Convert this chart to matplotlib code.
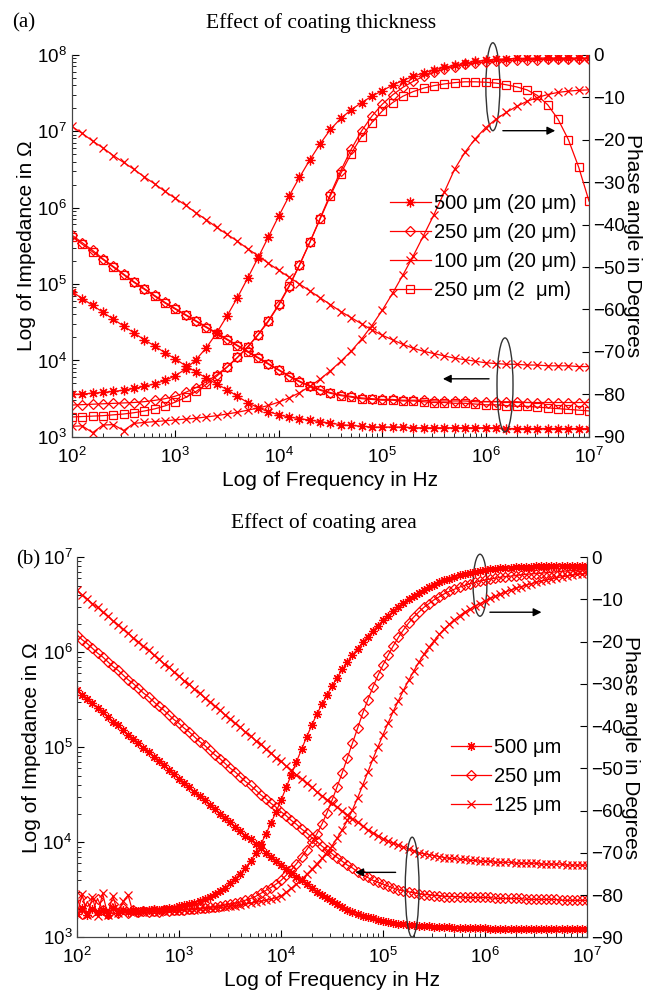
import numpy as np
import matplotlib
matplotlib.use("Agg")
import matplotlib.pyplot as plt
from matplotlib.patches import Ellipse

plt.rcParams['font.family'] = ['Liberation Sans', 'DejaVu Sans']
plt.rcParams['mathtext.fontset'] = 'custom'
plt.rcParams['mathtext.rm'] = 'Liberation Sans'
plt.rcParams['mathtext.it'] = 'Liberation Sans'

# frequency grids, log10(f) from 2 to 7
logf_a = np.round(np.arange(2.0, 7.0001, 0.1), 2)
logf_b = np.round(np.arange(2.0, 7.0001, 0.05), 2)

# ---- (a) effect of coating thickness : log10 |Z| ----
za_500 = [4.90, 4.81, 4.72, 4.63, 4.54, 4.45, 4.36, 4.27, 4.19, 4.10,
          4.02, 3.93, 3.85, 3.77, 3.69, 3.62, 3.53, 3.45, 3.38, 3.33,
          3.29, 3.26, 3.24, 3.22, 3.20, 3.18, 3.16, 3.15, 3.14, 3.13,
          3.13, 3.13, 3.13, 3.12, 3.12, 3.12, 3.12, 3.12, 3.12, 3.12,
          3.12, 3.12, 3.11, 3.11, 3.11, 3.11, 3.11, 3.11, 3.11, 3.11, 3.11]
za_250 = [5.64, 5.54, 5.44, 5.33, 5.23, 5.13, 5.03, 4.94, 4.85, 4.76,
          4.68, 4.60, 4.52, 4.44, 4.36, 4.28, 4.20, 4.12, 4.04, 3.96,
          3.88, 3.80, 3.73, 3.67, 3.62, 3.58, 3.55, 3.53, 3.51, 3.50,
          3.49, 3.49, 3.48, 3.48, 3.48, 3.47, 3.47, 3.47, 3.47, 3.46,
          3.46, 3.46, 3.46, 3.46, 3.45, 3.45, 3.45, 3.45, 3.45, 3.45, 3.45]
za_100 = [7.06, 6.97, 6.87, 6.78, 6.68, 6.59, 6.50, 6.40, 6.31, 6.21,
          6.12, 6.03, 5.93, 5.84, 5.74, 5.65, 5.56, 5.46, 5.37, 5.27,
          5.18, 5.09, 5.00, 4.91, 4.82, 4.73, 4.64, 4.56, 4.48, 4.40,
          4.33, 4.27, 4.21, 4.16, 4.12, 4.09, 4.06, 4.03, 4.01, 3.99,
          3.97, 3.96, 3.95, 3.95, 3.94, 3.94, 3.93, 3.93, 3.93, 3.92, 3.92]
za_250b = [5.62, 5.52, 5.42, 5.32, 5.22, 5.12, 5.02, 4.93, 4.84, 4.75,
           4.67, 4.59, 4.51, 4.43, 4.35, 4.27, 4.19, 4.11, 4.03, 3.95,
           3.87, 3.79, 3.72, 3.66, 3.61, 3.57, 3.54, 3.52, 3.50, 3.49,
           3.48, 3.48, 3.47, 3.47, 3.46, 3.45, 3.45, 3.44, 3.44, 3.43,
           3.42, 3.42, 3.41, 3.40, 3.40, 3.39, 3.38, 3.37, 3.36, 3.35, 3.34]

# ---- (a) phase angle, degrees ----
pa_500 = [-80.0, -79.9, -79.7, -79.5, -79.3, -79.0, -78.6, -78.1, -77.5, -76.7,
          -75.6, -74.0, -71.8, -69.0, -65.5, -61.5, -57.2, -52.6, -47.8, -42.9,
          -38.0, -33.3, -28.9, -24.8, -21.0, -17.6, -15.0, -13.0, -11.3, -9.8,
          -8.5, -7.2, -6.1, -5.1, -4.3, -3.6, -3.0, -2.5, -2.0, -1.6,
          -1.3, -1.1, -1.0, -0.9, -0.9, -0.8, -0.8, -0.8, -0.8, -0.8, -0.8]
pa_250 = [-82.5, -82.4, -82.3, -82.2, -82.1, -82.0, -81.9, -81.7, -81.4, -81.0,
          -80.4, -79.5, -78.4, -77.0, -75.4, -73.5, -71.3, -68.8, -66.0, -62.8,
          -59.0, -54.6, -49.6, -44.2, -38.5, -32.8, -27.3, -22.3, -18.0, -14.5,
          -11.7, -9.5, -7.7, -6.3, -5.1, -4.2, -3.4, -2.8, -2.3, -2.0,
          -1.7, -1.5, -1.4, -1.3, -1.2, -1.2, -1.1, -1.1, -1.1, -1.0, -1.0]
pa_100 = [-87.5, -87.4, -89.0, -87.2, -87.1, -88.5, -86.8, -86.6, -86.4, -86.2,
          -86.0, -85.8, -85.6, -85.3, -85.0, -84.6, -84.2, -83.7, -83.2, -82.6,
          -81.8, -80.8, -79.6, -78.1, -76.4, -74.4, -72.2, -69.8, -67.0, -63.8,
          -60.2, -56.2, -51.9, -47.4, -42.6, -37.7, -32.4, -27.0, -23.0, -19.8,
          -17.2, -15.2, -13.6, -12.2, -11.0, -10.1, -9.4, -8.9, -8.6, -8.4, -8.3]
pa_250b = [-85.3, -85.2, -85.1, -85.0, -84.8, -84.6, -84.3, -83.9, -83.4, -82.7,
           -81.8, -80.7, -79.3, -77.6, -75.7, -73.6, -71.3, -68.8, -65.9, -62.6,
           -58.8, -54.4, -49.5, -44.2, -38.7, -33.2, -28.0, -23.3, -19.3, -16.0,
           -13.3, -11.3, -9.8, -8.7, -7.9, -7.3, -6.9, -6.6, -6.4, -6.4,
           -6.5, -6.7, -7.1, -7.6, -8.3, -9.6, -11.8, -15.2, -20.0, -26.5, -34.5]

# ---- (b) effect of coating area : log10 |Z| ----
zb_500 = [5.60, 5.55, 5.51, 5.46, 5.41, 5.37, 5.32, 5.27, 5.23, 5.18,
          5.13, 5.09, 5.04, 4.99, 4.95, 4.90, 4.86, 4.81, 4.76, 4.72,
          4.67, 4.62, 4.58, 4.53, 4.49, 4.44, 4.39, 4.35, 4.30, 4.26,
          4.21, 4.16, 4.12, 4.07, 4.03, 3.98, 3.94, 3.89, 3.85, 3.80,
          3.76, 3.72, 3.68, 3.64, 3.60, 3.56, 3.52, 3.48, 3.45, 3.41,
          3.38, 3.35, 3.32, 3.29, 3.27, 3.25, 3.23, 3.21, 3.20, 3.18,
          3.17, 3.16, 3.15, 3.14, 3.14, 3.13, 3.13, 3.12, 3.12, 3.12,
          3.11, 3.11, 3.11, 3.11, 3.10, 3.10, 3.10, 3.10, 3.10, 3.10,
          3.10, 3.09, 3.09, 3.09, 3.09, 3.09, 3.09, 3.09, 3.09, 3.09,
          3.09, 3.09, 3.09, 3.09, 3.09, 3.09, 3.09, 3.09, 3.09, 3.09,
          3.09]
zb_250 = [6.18, 6.13, 6.09, 6.04, 5.99, 5.95, 5.90, 5.85, 5.81, 5.76,
          5.71, 5.67, 5.62, 5.57, 5.53, 5.48, 5.43, 5.39, 5.34, 5.29,
          5.25, 5.20, 5.16, 5.11, 5.06, 5.02, 4.97, 4.92, 4.88, 4.83,
          4.78, 4.74, 4.69, 4.64, 4.60, 4.55, 4.50, 4.46, 4.41, 4.37,
          4.32, 4.28, 4.23, 4.19, 4.14, 4.10, 4.05, 4.01, 3.96, 3.92,
          3.88, 3.84, 3.80, 3.76, 3.73, 3.69, 3.66, 3.63, 3.60, 3.58,
          3.56, 3.54, 3.52, 3.50, 3.49, 3.48, 3.47, 3.46, 3.45, 3.45,
          3.44, 3.44, 3.43, 3.43, 3.43, 3.43, 3.42, 3.42, 3.42, 3.42,
          3.42, 3.42, 3.41, 3.41, 3.41, 3.41, 3.41, 3.41, 3.40, 3.40,
          3.40, 3.40, 3.40, 3.40, 3.40, 3.39, 3.39, 3.39, 3.39, 3.39,
          3.39]
zb_125 = [6.65, 6.60, 6.56, 6.51, 6.47, 6.42, 6.38, 6.33, 6.29, 6.24,
          6.20, 6.15, 6.11, 6.06, 6.02, 5.97, 5.93, 5.88, 5.84, 5.79,
          5.75, 5.70, 5.66, 5.61, 5.57, 5.52, 5.48, 5.43, 5.39, 5.34,
          5.30, 5.25, 5.21, 5.16, 5.12, 5.07, 5.03, 4.98, 4.94, 4.89,
          4.85, 4.80, 4.76, 4.71, 4.67, 4.62, 4.58, 4.53, 4.49, 4.45,
          4.41, 4.37, 4.33, 4.29, 4.25, 4.21, 4.17, 4.13, 4.10, 4.07,
          4.04, 4.01, 3.99, 3.97, 3.95, 3.93, 3.91, 3.89, 3.88, 3.87,
          3.86, 3.85, 3.84, 3.83, 3.83, 3.82, 3.82, 3.81, 3.81, 3.80,
          3.80, 3.80, 3.79, 3.79, 3.79, 3.79, 3.78, 3.78, 3.78, 3.78,
          3.78, 3.77, 3.77, 3.77, 3.77, 3.77, 3.76, 3.76, 3.76, 3.76,
          3.76]

# ---- (b) phase angle, degrees ----
pb_500 = [-84.5, -83.0, -84.8, -83.2, -84.0, -83.5, -84.6, -83.1, -84.2, -83.6,
          -84.0, -83.4, -83.9, -83.5, -83.6, -83.3, -83.4, -83.2, -83.1, -83.0,
          -82.6, -82.4, -82.1, -81.8, -81.4, -80.9, -80.4, -79.8, -79.0, -78.2,
          -77.2, -76.1, -74.9, -73.5, -72.0, -70.1, -68.0, -65.6, -63.0, -60.3,
          -57.5, -54.5, -51.5, -48.5, -45.5, -42.6, -39.8, -37.2, -34.8, -32.6,
          -30.5, -28.5, -26.6, -24.9, -23.2, -21.7, -20.2, -18.8, -17.5, -16.2,
          -15.0, -13.9, -12.8, -11.8, -10.8, -9.9, -9.1, -8.4, -7.7, -7.1,
          -6.5, -6.0, -5.5, -5.1, -4.7, -4.3, -4.0, -3.7, -3.5, -3.3,
          -3.1, -2.9, -2.8, -2.7, -2.6, -2.5, -2.4, -2.4, -2.3, -2.3,
          -2.2, -2.2, -2.1, -2.1, -2.1, -2.1, -2.0, -2.0, -2.0, -2.0,
          -2.0]
pb_250 = [-80.5, -84.5, -81.5, -84.0, -80.8, -83.5, -84.5, -82.0, -84.2, -83.0,
          -84.3, -83.5, -84.0, -83.8, -84.1, -83.7, -83.9, -83.6, -83.7, -83.6,
          -83.5, -83.4, -83.3, -83.2, -83.1, -83.0, -82.8, -82.7, -82.5, -82.3,
          -82.1, -81.9, -81.6, -81.2, -80.8, -80.3, -79.6, -78.9, -78.2, -77.4,
          -76.5, -75.3, -74.0, -72.6, -71.0, -69.3, -67.5, -65.5, -63.2, -60.5,
          -57.5, -54.3, -51.0, -47.5, -44.0, -40.5, -37.0, -33.8, -30.8, -28.0,
          -25.5, -23.2, -21.0, -19.0, -17.2, -15.6, -14.2, -13.0, -11.9, -11.0,
          -10.1, -9.4, -8.7, -8.1, -7.6, -7.1, -6.7, -6.3, -6.0, -5.7,
          -5.4, -5.2, -5.0, -4.8, -4.6, -4.5, -4.4, -4.2, -4.1, -4.0,
          -3.9, -3.8, -3.7, -3.6, -3.5, -3.4, -3.3, -3.2, -3.1, -3.0,
          -3.0]
pb_125 = [-84.5, -79.8, -84.8, -80.5, -85.0, -79.6, -84.6, -80.2, -84.2, -81.5,
          -80.0, -84.3, -84.1, -84.0, -84.0, -83.9, -83.9, -83.8, -83.8, -83.7,
          -83.7, -83.6, -83.5, -83.4, -83.3, -83.2, -83.1, -83.0, -82.9, -82.8,
          -82.6, -82.5, -82.3, -82.1, -81.9, -81.7, -81.5, -81.2, -81.0, -80.6,
          -80.2, -79.3, -78.4, -77.4, -76.3, -75.1, -73.9, -72.6, -71.3, -69.9,
          -68.3, -66.5, -64.5, -62.3, -59.8, -57.0, -54.0, -50.9, -47.8, -44.9,
          -42.0, -39.2, -36.5, -34.0, -31.5, -29.2, -27.0, -24.9, -23.0, -21.3,
          -19.8, -18.3, -17.0, -15.9, -14.8, -13.9, -13.0, -12.3, -11.6, -11.0,
          -10.4, -9.8, -9.3, -8.8, -8.3, -7.8, -7.4, -7.0, -6.7, -6.3,
          -6.0, -5.7, -5.4, -5.2, -4.9, -4.7, -4.5, -4.3, -4.1, -4.0,
          -3.8]

labels_a = ["500 μm (20 μm)", "250 μm (20 μm)", "100 μm (20 μm)", "250 μm (2  μm)"]
labels_b = ["500 μm", "250 μm", "125 μm"]

red = "#ff0000"
fsz = 13.5
ast = (8, 2, 0)

fa = 10.0 ** logf_a
fb = 10.0 ** logf_b

fig = plt.figure(figsize=(6.48, 9.93), dpi=100)
ax = fig.add_axes([0.111, 0.560, 0.798, 0.385])
bx = fig.add_axes([0.119, 0.056, 0.787, 0.383])


def style(a, b, ylo, yhi):
    for s in (a, b):
        s.spines['top'].set_visible(False)
        s.spines['left'].set_color('#444444')
        s.spines['right'].set_color('#444444')
        s.spines['bottom'].set_color('#444444')
    a.set_xscale('log')
    a.set_yscale('log')
    a.set_xlim(1e2, 1e7)
    a.set_ylim(ylo, yhi)
    b.set_ylim(-90, 0)
    b.set_yticks(np.arange(-90, 1, 10))
    a.tick_params(which='both', direction='in', labelsize=fsz, top=False)
    a.tick_params(which='major', length=5)
    a.tick_params(which='minor', length=3)
    a.tick_params(axis='x', which='both', pad=7)
    b.tick_params(direction='in', labelsize=fsz, length=5, pad=3)


def mk(marker, **kw):
    d = dict(color=red, lw=0.9, marker=marker, ms=5, mec=red, mew=0.9, mfc='none')
    d.update(kw)
    return d


# ---------- panel (a) ----------
ax2 = ax.twinx()
style(ax, ax2, 1e3, 1e8)
ax.plot(fa, 10.0 ** np.array(za_500), **mk(ast, ms=7))
ax.plot(fa, 10.0 ** np.array(za_250), **mk('D', ms=5))
ax.plot(fa, 10.0 ** np.array(za_100), **mk('x', ms=6))
ax.plot(fa, 10.0 ** np.array(za_250b), **mk('s', ms=5.5))
h1, = ax2.plot(fa, pa_500, **mk(ast, ms=7))
h2, = ax2.plot(fa, pa_250, **mk('D', ms=5))
h3, = ax2.plot(fa, pa_100, **mk('x', ms=6))
h4, = ax2.plot(fa, pa_250b, **mk('s', ms=5.5))
ax.set_xlabel("Log of Frequency in Hz", fontsize=15, labelpad=3)
ax.set_ylabel("Log of Impedance in Ω", fontsize=15, labelpad=1)
ax2.set_ylabel("Phase angle in Degrees", fontsize=15, rotation=270, labelpad=12)
ax2.legend([h1, h2, h3, h4], labels_a, loc='upper left', bbox_to_anchor=(0.6, 0.657),
           frameon=False, fontsize=14.5, handlelength=2.0, handletextpad=0.15,
           labelspacing=0.5, borderaxespad=0)

ax2.add_patch(Ellipse((0.814, 0.916), 0.027, 0.23, transform=ax2.transAxes,
                      fill=False, ec='#333333', lw=1, clip_on=False))
ax2.add_patch(Ellipse((0.8375, 0.136), 0.031, 0.246, transform=ax2.transAxes,
                      fill=False, ec='#333333', lw=1, clip_on=False))
ax2.annotate("", xy=(0.94, 0.801), xytext=(0.828, 0.801), xycoords='axes fraction',
             arrowprops=dict(arrowstyle='-|>', color='black', lw=1, mutation_scale=12))
ax2.annotate("", xy=(0.712, 0.152), xytext=(0.812, 0.152), xycoords='axes fraction',
             arrowprops=dict(arrowstyle='-|>', color='black', lw=1, mutation_scale=12))

fig.text(0.496, 0.977, "Effect of coating thickness", family='Liberation Serif',
         fontsize=15.5, ha='center', va='center')
fig.text(0.036, 0.977, "(a)", family='Liberation Serif', fontsize=15,
         ha='center', va='center')

# ---------- panel (b) ----------
bx2 = bx.twinx()
style(bx, bx2, 1e3, 1e7)
bx.plot(fb, 10.0 ** np.array(zb_500), **mk(ast, ms=6.5))
bx.plot(fb, 10.0 ** np.array(zb_250), **mk('D', ms=5))
bx.plot(fb, 10.0 ** np.array(zb_125), **mk('x', ms=5.5))
g1, = bx2.plot(fb, pb_500, **mk(ast, ms=6.5))
g2, = bx2.plot(fb, pb_250, **mk('D', ms=5))
g3, = bx2.plot(fb, pb_125, **mk('x', ms=5.5))
bx.set_xlabel("Log of Frequency in Hz", fontsize=15, labelpad=3)
bx.set_ylabel("Log of Impedance in Ω", fontsize=15, labelpad=1)
bx2.set_ylabel("Phase angle in Degrees", fontsize=15, rotation=270, labelpad=12)
bx2.legend([g1, g2, g3], labels_b, loc='upper left', bbox_to_anchor=(0.717, 0.546),
           frameon=False, fontsize=14.5, handlelength=2.0, handletextpad=0.15,
           labelspacing=0.5, borderaxespad=0)

bx2.add_patch(Ellipse((0.790, 0.926), 0.027, 0.163, transform=bx2.transAxes,
                      fill=False, ec='#333333', lw=1, clip_on=False))
bx2.add_patch(Ellipse((0.657, 0.132), 0.027, 0.263, transform=bx2.transAxes,
                      fill=False, ec='#333333', lw=1, clip_on=False))
bx2.annotate("", xy=(0.916, 0.855), xytext=(0.804, 0.855), xycoords='axes fraction',
             arrowprops=dict(arrowstyle='-|>', color='black', lw=1, mutation_scale=12))
bx2.annotate("", xy=(0.54, 0.171), xytext=(0.63, 0.171), xycoords='axes fraction',
             arrowprops=dict(arrowstyle='-|>', color='black', lw=1, mutation_scale=12))

fig.text(0.5, 0.473, "Effect of coating area", family='Liberation Serif',
         fontsize=15.5, ha='center', va='center')
fig.text(0.044, 0.436, "(b)", family='Liberation Serif', fontsize=15,
         ha='center', va='center')

fig.savefig("out.png", dpi=100)
